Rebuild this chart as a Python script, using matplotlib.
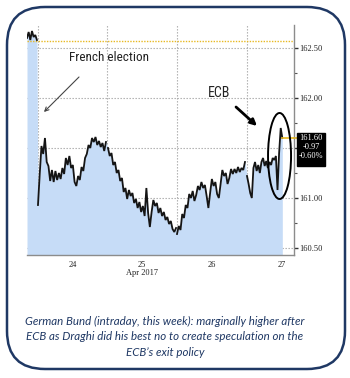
import numpy as np
import matplotlib
matplotlib.use("Agg")
import matplotlib.pyplot as plt
import matplotlib.transforms as mtransforms
from matplotlib import font_manager as fm
from matplotlib.patches import FancyBboxPatch, Ellipse, Rectangle

# ---------------- data ----------------
day_labels = ["24", "25", "26", "27"]
month_label = "Apr 2017"
prev_close = 162.57

# intraday Bund futures prices, one list per session
fri = [162.60, 162.66, 162.58, 162.67, 162.61, 162.63, 162.58]
mon = [160.93, 161.24, 161.52, 161.44, 161.60, 161.36, 161.32, 161.17, 161.28, 161.16,
       161.27, 161.18, 161.25, 161.19, 161.30, 161.24, 161.40, 161.33, 161.42, 161.30,
       161.33, 161.16, 161.12, 161.22, 161.18, 161.31, 161.27, 161.40, 161.44, 161.53,
       161.50, 161.60, 161.56, 161.61, 161.53, 161.57, 161.51, 161.55, 161.47, 161.56]
tue = [161.50, 161.42, 161.45, 161.33, 161.36, 161.25, 161.28, 161.17, 161.20, 161.06,
       161.10, 160.99, 161.08, 161.02, 161.05, 160.95, 160.99, 160.90, 160.96, 160.86,
       160.92, 160.82, 161.10, 160.85, 160.71, 160.86, 160.98, 160.92, 160.95, 160.85,
       160.90, 160.82, 160.86, 160.78, 160.81, 160.74, 160.77, 160.69, 160.66, 160.70]
wed = [160.64, 160.72, 160.68, 160.84, 160.80, 160.93, 160.90, 161.04, 161.00, 161.07,
       160.97, 161.03, 161.12, 161.08, 161.16, 161.10, 161.13, 161.02, 160.90, 161.05,
       161.19, 161.12, 161.16, 161.04, 161.00, 161.14, 161.28, 161.22, 161.25, 161.14,
       161.20, 161.29, 161.24, 161.29, 161.25, 161.31, 161.26, 161.30, 161.28, 161.36]
thu = [161.22, 161.14, 161.05, 161.00, 161.30, 161.36, 161.27, 161.33, 161.25, 161.36,
       161.40, 161.32, 161.37, 161.30, 161.36, 161.33, 161.40, 161.38, 161.42, 161.08,
       161.45, 161.70, 161.60]

# session time spans, in days from Apr 24 00:00
spans = [(-0.158, -0.015), (0.0, 0.978), (1.007, 1.986), (2.0, 2.978), (3.007, 3.515)]
sessions = [fri, mon, tue, wed, thu]

caption = ["German Bund (intraday, this week): marginally higher after",
           "ECB as Draghi did his best no to create speculation on the",
           "ECB\u2019s exit policy"]

# ---------------- style ----------------
names = {f.name for f in fm.fontManager.ttflist}
narrow = next((n for n in ["Liberation Sans Narrow", "Roboto Condensed",
                           "Open Sans Condensed", "DejaVu Sans Condensed"] if n in names),
              "DejaVu Sans")
serif = "Liberation Serif" if "Liberation Serif" in names else "DejaVu Serif"
cap_font = "Lato" if "Lato" in names else "DejaVu Sans"

navy = "#1F3864"
fill_col = "#C6DCF7"
gold = "#E8B923"
grid_col = "#A8A8A8"

W, H = 350, 378
fig = plt.figure(figsize=(W / 100, H / 100), dpi=100)
fig.patch.set_facecolor("white")

ax = fig.add_axes([27 / W, 1 - 255 / H, 267 / W, 230 / H])
ylo, yhi = 160.43, 162.73
xlo, xhi = -0.158, 3.683
ax.set_xlim(xlo, xhi)
ax.set_ylim(ylo, yhi)

# area + price line
xs_all, ys_all = [], []
for (a, b), vals in zip(spans, sessions):
    xs = np.linspace(a, b, len(vals))
    xs_all.append(xs)
    ys_all.append(np.asarray(vals))
    ax.plot(xs, vals, color="#151515", lw=1.3, zorder=3, solid_joinstyle="miter")
xs_all = np.concatenate(xs_all)
ys_all = np.concatenate(ys_all)
ax.fill_between(xs_all, ys_all, ylo, color=fill_col, lw=0, zorder=1)

# previous close
ax.axhline(prev_close, color=gold, lw=1.0, ls=(0, (1, 1)), zorder=2)

# last price marker line and value box
last = thu[-1]
change = last - prev_close
pct = change / prev_close * 100
blend = mtransforms.blended_transform_factory(ax.transAxes, ax.transData)
ax.plot([spans[-1][1], xhi], [last, last], color=gold, lw=1.2, zorder=4, clip_on=False)
ax.plot([1.0, 1.012], [last, last], color=gold, lw=1.2, transform=blend, clip_on=False)
box = Rectangle((1.012, last - 0.275), 0.105, 0.325, transform=blend,
                facecolor="black", edgecolor="black", clip_on=False, zorder=6)
ax.add_patch(box)
for i, s in enumerate([f"{last:.2f}", f"{change:.2f}", f"{pct:.2f}%"]):
    ax.text(1.064, last - 0.09 * i, s, transform=blend, color="white", ha="center",
            va="center", family=serif, size=6, zorder=7, clip_on=False)

# grid / ticks
ax.set_xticks([0.5, 1.5, 2.5, 3.5])
ax.set_xticklabels(day_labels, family=serif, size=6, color="#222222")
ax.set_xticks([0, 1, 2, 3], minor=True)
ax.tick_params(axis="x", which="major", length=0, pad=4)
ax.tick_params(axis="x", which="minor", length=0)
ax.grid(True, axis="x", which="minor", color=grid_col, ls=(0, (1.2, 1.5)), lw=0.8)

ax.yaxis.tick_right()
yt = [160.5, 161.0, 161.5, 162.0, 162.5]
ax.set_yticks(yt)
ax.set_yticklabels(["160.50", "161.00", "", "162.00", "162.50"],
                   family=serif, size=6, color="#222222")
ax.set_yticks([160.75, 161.25, 161.75, 162.25], minor=True)
ax.tick_params(axis="y", which="major", length=3, width=1, color="#333333", pad=1)
ax.tick_params(axis="y", which="minor", length=2, width=0.8, color="#555555")
ax.grid(True, axis="y", which="major", color=grid_col, ls=(0, (1.2, 1.5)), lw=0.8)

for side in ["left", "top"]:
    ax.spines[side].set_visible(False)
for side in ["right", "bottom"]:
    ax.spines[side].set_color("#8C8C8C")
    ax.spines[side].set_linewidth(1.0)
ax.set_axisbelow(True)

ax.text(1.5, -0.078, month_label, transform=mtransforms.blended_transform_factory(
    ax.transData, ax.transAxes), ha="center", va="center", family=serif, size=6,
    color="#222222")

# annotations
ax.text(0.446, 162.40, "French election", family=narrow, size=9.5, ha="left",
        va="center", color="#222222", zorder=5)
ax.annotate("", xy=(0.086, 161.86), xytext=(0.590, 162.21),
            arrowprops=dict(arrowstyle="->", color="#444444", lw=0.8,
                            shrinkA=0, shrinkB=0, mutation_scale=7), zorder=5)
ax.text(2.604, 162.05, "ECB", family=narrow, size=10, ha="center", va="center",
        color="#222222", zorder=5)
ax.annotate("", xy=(3.151, 161.72), xytext=(2.849, 161.91),
            arrowprops=dict(arrowstyle="-|>", color="black", lw=2.0,
                            shrinkA=0, shrinkB=0, mutation_scale=9), zorder=5)
ax.add_patch(Ellipse((3.475, 161.42), width=0.331, height=0.86, fill=False,
                     ec="black", lw=1.4, zorder=5, clip_on=False))

# caption
for i, line in enumerate(caption):
    fig.text(165 / W, 1 - (321 + 15.5 * i) / H, line, ha="center", va="center",
             style="italic", family=cap_font, size=8.3, color=navy)

# rounded frame
frame = FancyBboxPatch((7 / 100, (H - 369) / 100), (345 - 7) / 100, (369 - 7) / 100,
                       boxstyle="round,pad=0,rounding_size=0.38",
                       transform=fig.dpi_scale_trans, fill=False, ec=navy, lw=1.8)
fig.add_artist(frame)

fig.savefig("out.png", dpi=100)
